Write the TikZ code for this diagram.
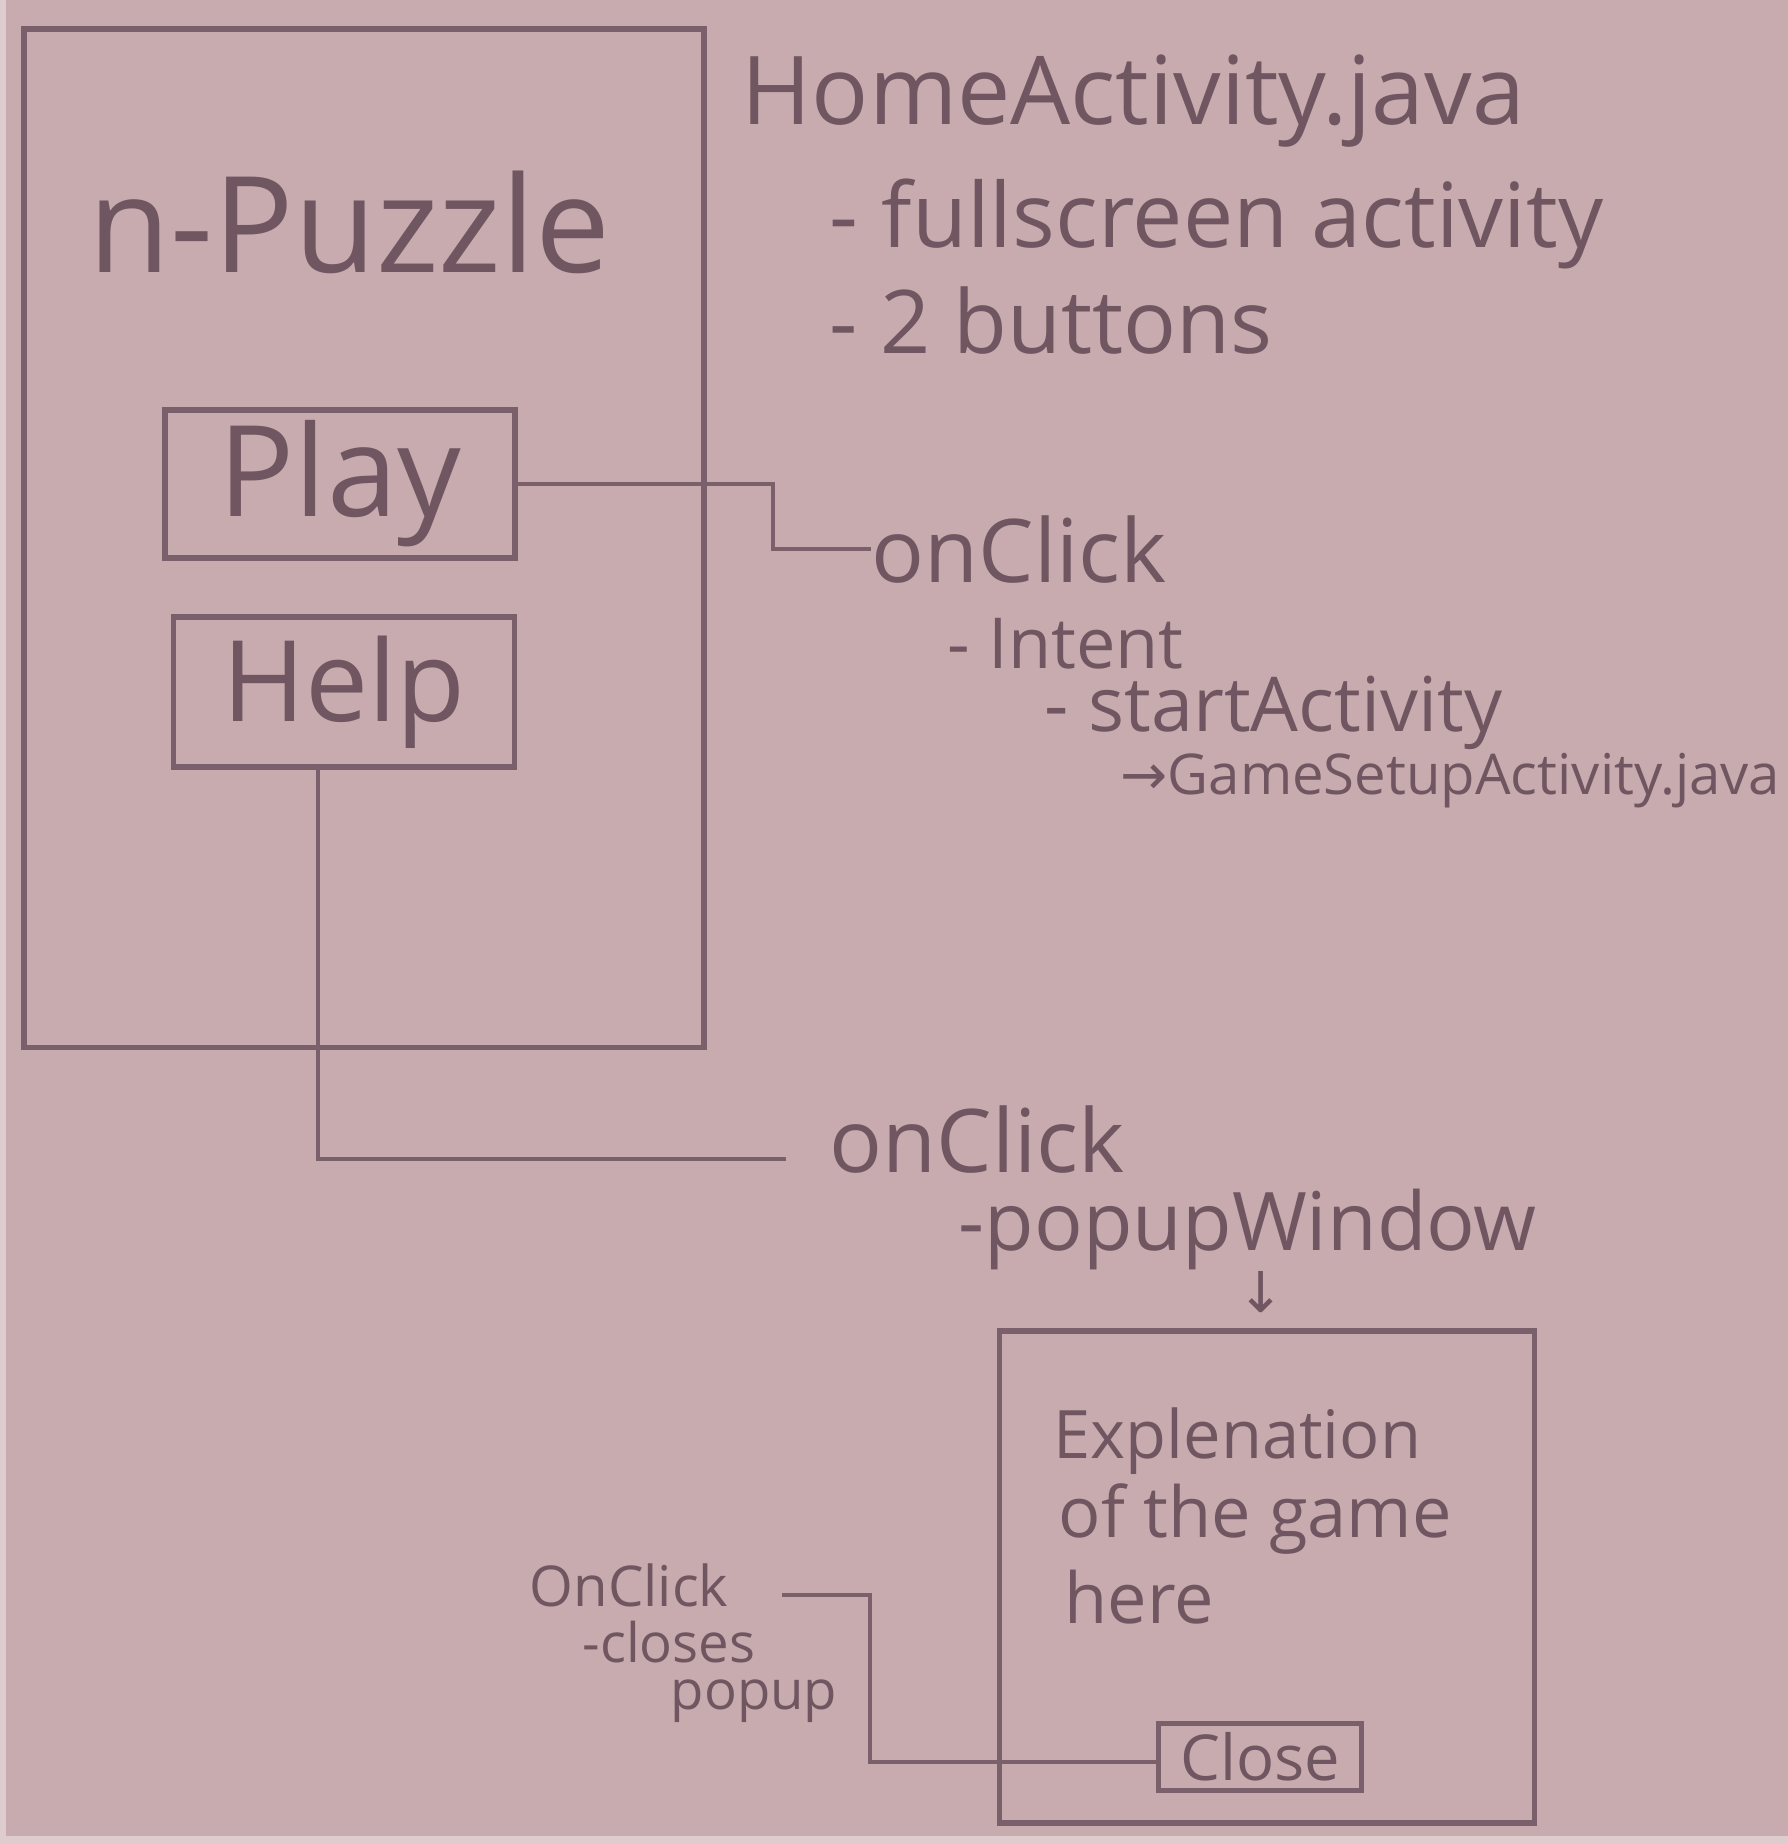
\documentclass[tikz,border=0pt]{standalone}
\usepackage{fontspec}
\setmainfont{Open Sans}
\newfontfamily\symfont{DejaVu Sans}
\definecolor{bgc}{RGB}{199,171,175}
\definecolor{edgec}{RGB}{222,204,207}
\definecolor{inkc}{RGB}{122,96,106}
\definecolor{textc}{RGB}{112,86,96}
\begin{document}
\begin{tikzpicture}[x=0.01cm,y=-0.01cm,
  box/.style={draw=inkc, line width=1.6pt, rectangle, inner sep=0pt, text=textc},
  lbl/.style={text=textc, inner sep=0pt, anchor=base west},
  conn/.style={draw=inkc, line width=1.2pt}]
\fill[bgc] (0,0) rectangle (1788,1844);
\useasboundingbox (0,0) rectangle (1788,1844);
\fill[edgec] (0,0) rectangle (6,1844);
\fill[edgec] (0,1836) rectangle (1788,1844);

% boxes
\node[box, minimum width=6.8cm, minimum height=10.18cm] (phone) at (364,538) {};
\node[box, minimum width=3.5cm, minimum height=1.48cm, font=\fontsize{36}{40}\selectfont] (play) at (340,484) {Play};
\node[box, minimum width=3.41cm, minimum height=1.5cm, font=\fontsize{32}{36}\selectfont] (help) at (344,692) {Help};
\node[box, minimum width=5.35cm, minimum height=4.92cm] (popup) at (1267,1577) {};
\node[box, minimum width=2.03cm, minimum height=0.67cm, font=\fontsize{18}{20}\selectfont] (close) at (1260,1757) {Close};

% texts
\node[lbl, font=\fontsize{38}{44}\selectfont] (title) at (88,272) {n-Puzzle};
\node[lbl, font=\fontsize{27}{30}\selectfont] (home) at (741,124) {HomeActivity.java};
\node[lbl, font=\fontsize{25.5}{28}\selectfont] (full) at (829,247) {- fullscreen activity};
\node[lbl, font=\fontsize{25}{28}\selectfont] (btns) at (829,353) {- 2 buttons};
\node[lbl, font=\fontsize{25}{28}\selectfont] (click1) at (871,582) {onClick};
\node[lbl, font=\fontsize{20}{24}\selectfont] (intent) at (947,668) {- Intent};
\node[lbl, font=\fontsize{21.5}{24}\selectfont] (start) at (1044,731) {- startActivity};
\node[lbl, font=\fontsize{16}{18}\selectfont] (gsa) at (1120,794) {{\symfont →}GameSetupActivity.java};
\node[lbl, font=\fontsize{25}{28}\selectfont] (click2) at (829,1172) {onClick};
\node[lbl, font=\fontsize{23}{26}\selectfont] (popw) at (958,1250) {-popupWindow};
\node[text=textc, inner sep=0pt, font=\symfont\fontsize{16}{16}\selectfont] (arr) at (1261,1292) {↓};
\node[lbl, font=\fontsize{19}{22}\selectfont] (ex1) at (1053,1458) {Explenation};
\node[lbl, font=\fontsize{20}{22}\selectfont] (ex2) at (1058,1537) {of the game};
\node[lbl, font=\fontsize{20}{22}\selectfont] (ex3) at (1064,1623) {here};
\node[lbl, font=\fontsize{16}{18}\selectfont] (click3) at (529,1606) {OnClick};
\node[lbl, font=\fontsize{15.5}{18}\selectfont] (cls) at (582,1662) {-closes};
\node[lbl, font=\fontsize{15.5}{18}\selectfont] (pop) at (670,1709) {popup};

% connectors
\draw[conn] (play.east) -- ++(255,0) |- (click1.west);
\draw[conn] ([xshift=-0.26cm]help.south) |- ([xshift=-0.43cm,yshift=-0.2cm]click2.west);
\draw[conn] ([yshift=-0.05cm]close.west) -- ++(-286,0) |- ([xshift=0.53cm,yshift=-0.1cm]click3.east);
\end{tikzpicture}
\end{document}
